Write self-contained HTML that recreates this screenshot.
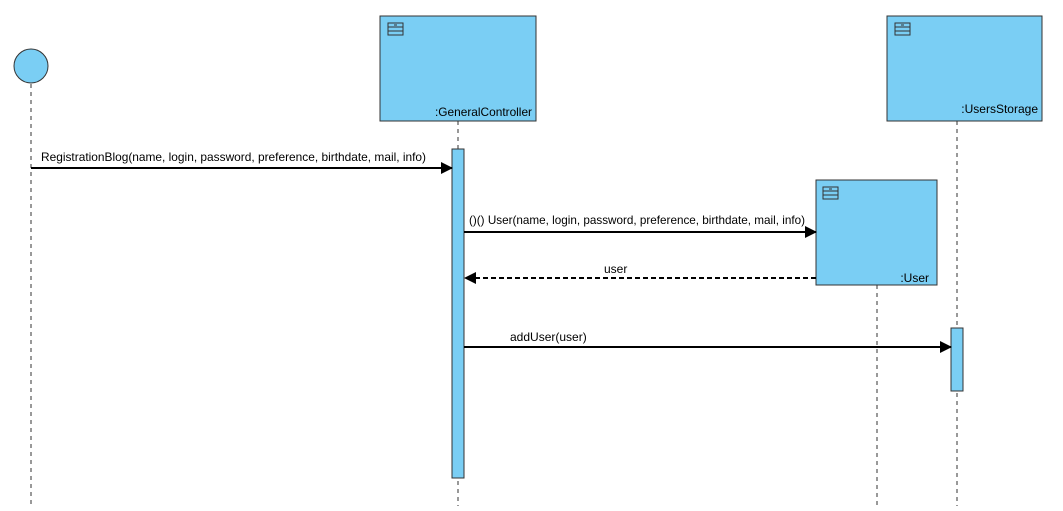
<!DOCTYPE html>
<html><head><meta charset="utf-8"><style>body{margin:0;background:#fff}</style></head><body>
<svg width="1063" height="506" xmlns="http://www.w3.org/2000/svg" font-family="'Liberation Sans', sans-serif" font-size="12">
<defs>
<marker id="a" markerWidth="12" markerHeight="12" refX="11" refY="6" orient="auto" markerUnits="userSpaceOnUse"><path d="M0,0 L12,6 L0,12 z" fill="#000"/></marker>
<g id="ic"><rect x="0" y="0" width="15" height="12" fill="none" stroke="#333" stroke-width="1"/><line x1="0" y1="4" x2="15" y2="4" stroke="#333"/><line x1="0" y1="8" x2="15" y2="8" stroke="#333"/><line x1="6" y1="2" x2="9" y2="2" stroke="#333"/></g>
</defs>
<g stroke="#333" stroke-dasharray="4,4" stroke-width="1">
<line x1="31" y1="84" x2="31" y2="506"/>
<line x1="458" y1="121" x2="458" y2="506"/>
<line x1="957" y1="121" x2="957" y2="506"/>
<line x1="877" y1="285" x2="877" y2="506"/>
</g>
<circle cx="31" cy="66" r="17" fill="#7acef4" stroke="#333"/>
<rect x="380" y="16" width="156" height="105" fill="#7acef4" stroke="#333"/>
<use href="#ic" x="388" y="23"/>
<text x="435" y="116" textLength="97" lengthAdjust="spacingAndGlyphs">:GeneralController</text>
<rect x="887" y="16" width="155" height="105" fill="#7acef4" stroke="#333"/>
<use href="#ic" x="895" y="23"/>
<text x="1038" y="113" text-anchor="end">:UsersStorage</text>
<rect x="816" y="180" width="121" height="105" fill="#7acef4" stroke="#333"/>
<use href="#ic" x="823" y="187"/>
<text x="929" y="282" text-anchor="end">:User</text>
<rect x="452" y="149" width="12" height="329" fill="#7acef4" stroke="#333"/>
<rect x="951" y="328" width="12" height="63" fill="#7acef4" stroke="#333"/>
<line x1="31" y1="168" x2="452" y2="168" stroke="#000" stroke-width="2" marker-end="url(#a)"/>
<text x="41" y="161" textLength="385" lengthAdjust="spacingAndGlyphs">RegistrationBlog(name, login, password, preference, birthdate, mail, info)</text>
<line x1="464" y1="232" x2="816" y2="232" stroke="#000" stroke-width="2" marker-end="url(#a)"/>
<text x="469" y="224" textLength="336" lengthAdjust="spacingAndGlyphs">()() User(name, login, password, preference, birthdate, mail, info)</text>
<line x1="816" y1="278" x2="465" y2="278" stroke="#000" stroke-width="2" stroke-dasharray="5,3" marker-end="url(#a)"/>
<text x="604" y="273">user</text>
<line x1="464" y1="347" x2="951" y2="347" stroke="#000" stroke-width="2" marker-end="url(#a)"/>
<text x="510" y="341">addUser(user)</text>
</svg>
</body></html>
